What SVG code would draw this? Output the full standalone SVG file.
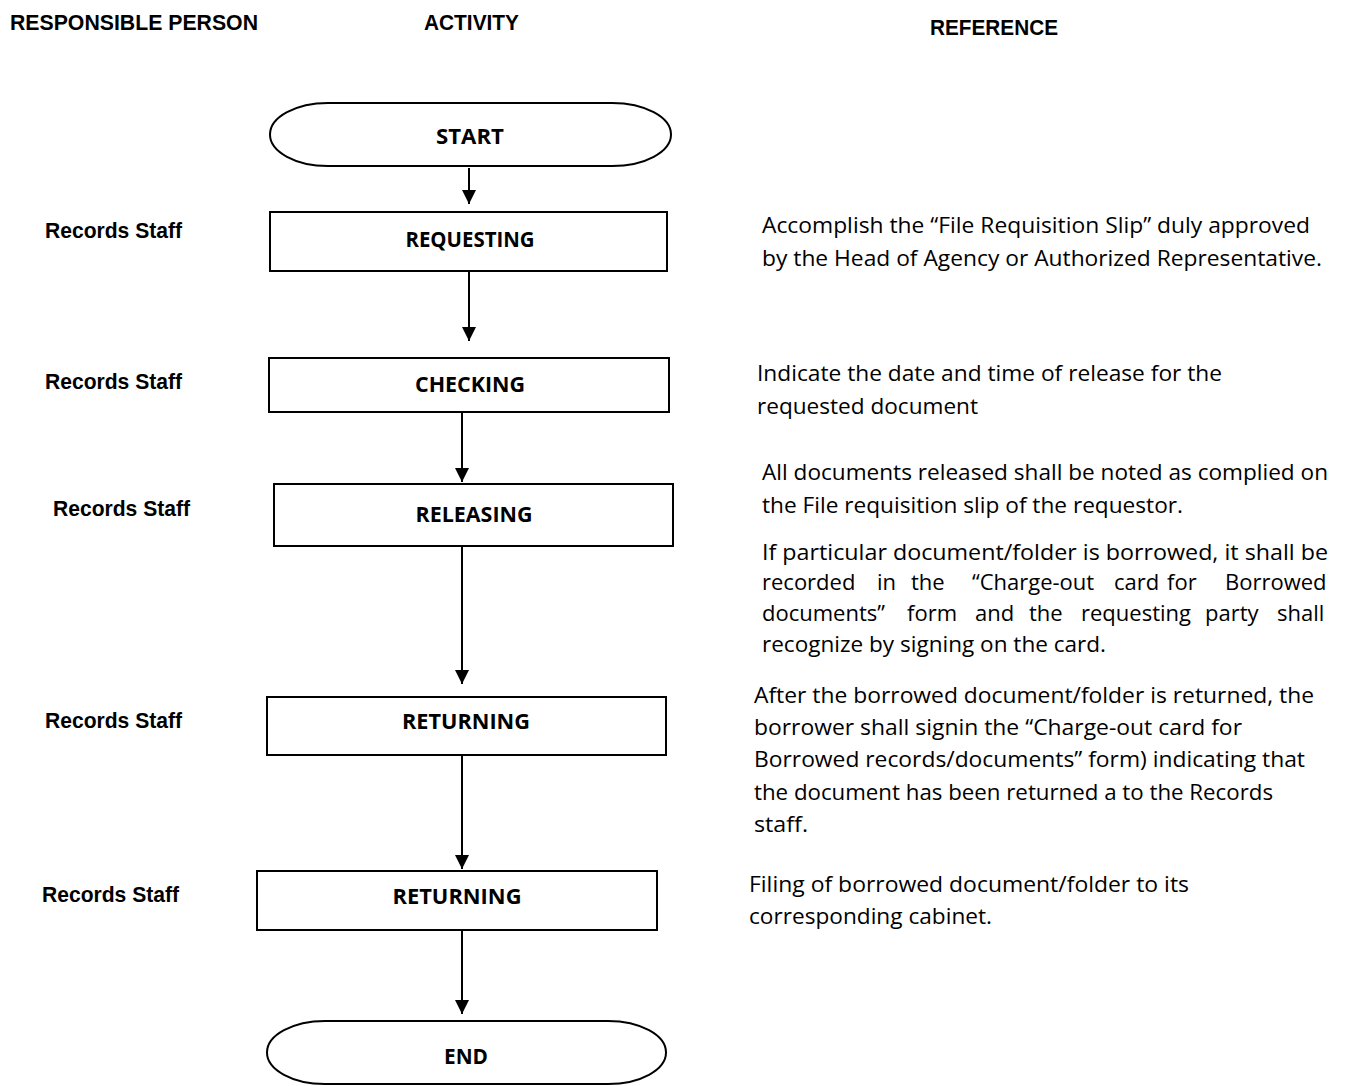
<svg xmlns="http://www.w3.org/2000/svg" width="1347" height="1086" viewBox="0 0 1347 1086">
<style>
.hdr{font-family:"Liberation Sans",Arial,sans-serif;font-weight:bold;font-size:22px;fill:#000}
.who{font-family:"Liberation Sans",Arial,sans-serif;font-weight:bold;font-size:22px;fill:#000}
.lbl{font-family:"Open Sans","Noto Sans",sans-serif;font-weight:bold;font-size:22px;fill:#000;text-anchor:middle}
.ref{font-family:"Open Sans","Noto Sans",sans-serif;font-size:22px;fill:#000}
.shape{fill:#fff;stroke:#000;stroke-width:2}
.conn{stroke:#000;stroke-width:2;fill:none}
</style>
<defs>
<marker id="arr" viewBox="0 0 10 10" refX="10" refY="5" markerWidth="14" markerHeight="15" markerUnits="userSpaceOnUse" orient="auto">
<path d="M0,0 L10,5 L0,10 Z" fill="#000"/>
</marker>
</defs>
<rect width="1347" height="1086" fill="#fff"/>

<g id="headers">
<text class="hdr" x="10" y="30" textLength="248" lengthAdjust="spacingAndGlyphs">RESPONSIBLE PERSON</text>
<text class="hdr" x="424" y="30" textLength="95" lengthAdjust="spacingAndGlyphs">ACTIVITY</text>
<text class="hdr" x="930" y="35" textLength="128" lengthAdjust="spacingAndGlyphs">REFERENCE</text>
</g>

<g id="connectors">
<line class="conn" x1="469" y1="168" x2="469" y2="204" marker-end="url(#arr)"/>
<line class="conn" x1="469" y1="272" x2="469" y2="341" marker-end="url(#arr)"/>
<line class="conn" x1="462" y1="413" x2="462" y2="482" marker-end="url(#arr)"/>
<line class="conn" x1="462" y1="547" x2="462" y2="684" marker-end="url(#arr)"/>
<line class="conn" x1="462" y1="756" x2="462" y2="869" marker-end="url(#arr)"/>
<line class="conn" x1="462" y1="931" x2="462" y2="1014" marker-end="url(#arr)"/>
</g>

<g id="start">
<path class="shape" d="M328,103 H612 A59,31.5 0 0 1 612,166 H328 A58,31.5 0 0 1 328,103 Z"/>
<text class="lbl" x="470" y="144" textLength="68" lengthAdjust="spacingAndGlyphs">START</text>
</g>

<g id="requesting">
<rect class="shape" x="270" y="212" width="397" height="59"/>
<text class="lbl" x="470" y="247" textLength="129" lengthAdjust="spacingAndGlyphs">REQUESTING</text>
</g>

<g id="checking">
<rect class="shape" x="269" y="358" width="400" height="54"/>
<text class="lbl" x="470" y="392" textLength="110" lengthAdjust="spacingAndGlyphs">CHECKING</text>
</g>

<g id="releasing">
<rect class="shape" x="274" y="484" width="399" height="62"/>
<text class="lbl" x="474" y="522" textLength="117" lengthAdjust="spacingAndGlyphs">RELEASING</text>
</g>

<g id="returning1">
<rect class="shape" x="267" y="697" width="399" height="58"/>
<text class="lbl" x="466" y="729" textLength="128" lengthAdjust="spacingAndGlyphs">RETURNING</text>
</g>

<g id="returning2">
<rect class="shape" x="257" y="871" width="400" height="59"/>
<text class="lbl" x="457" y="904" textLength="129" lengthAdjust="spacingAndGlyphs">RETURNING</text>
</g>

<g id="end">
<path class="shape" d="M325,1021 H608 A58,31.5 0 0 1 608,1084 H325 A58,31.5 0 0 1 325,1021 Z"/>
<text class="lbl" x="466" y="1064" textLength="44" lengthAdjust="spacingAndGlyphs">END</text>
</g>

<g id="responsible">
<text class="who" x="45" y="238" textLength="137" lengthAdjust="spacingAndGlyphs">Records Staff</text>
<text class="who" x="45" y="389" textLength="137" lengthAdjust="spacingAndGlyphs">Records Staff</text>
<text class="who" x="53" y="516" textLength="137" lengthAdjust="spacingAndGlyphs">Records Staff</text>
<text class="who" x="45" y="728" textLength="137" lengthAdjust="spacingAndGlyphs">Records Staff</text>
<text class="who" x="42" y="902" textLength="137" lengthAdjust="spacingAndGlyphs">Records Staff</text>
</g>

<g id="references">
<text class="ref" x="762" y="233" textLength="548" lengthAdjust="spacingAndGlyphs">Accomplish the “File Requisition Slip” duly approved</text>
<text class="ref" x="762" y="266" textLength="560" lengthAdjust="spacingAndGlyphs">by the Head of Agency or Authorized Representative.</text>

<text class="ref" x="757" y="381" textLength="465" lengthAdjust="spacingAndGlyphs">Indicate the date and time of release for the</text>
<text class="ref" x="757" y="414" textLength="221" lengthAdjust="spacingAndGlyphs">requested document</text>

<text class="ref" x="762" y="480" textLength="566" lengthAdjust="spacingAndGlyphs">All documents released shall be noted as complied on</text>
<text class="ref" x="762" y="513" textLength="421" lengthAdjust="spacingAndGlyphs">the File requisition slip of the requestor.</text>

<text class="ref" x="762" y="560" textLength="566" lengthAdjust="spacingAndGlyphs">If particular document/folder is borrowed, it shall be</text>
<text class="ref" y="590"><tspan x="762">recorded</tspan><tspan x="877">in</tspan><tspan x="911">the</tspan><tspan x="972">“Charge-out</tspan><tspan x="1114">card</tspan><tspan x="1167">for</tspan><tspan x="1225">Borrowed</tspan></text>
<text class="ref" y="621"><tspan x="762">documents”</tspan><tspan x="907">form</tspan><tspan x="975">and</tspan><tspan x="1029">the</tspan><tspan x="1081">requesting</tspan><tspan x="1205">party</tspan><tspan x="1277">shall</tspan></text>
<text class="ref" x="762" y="652" textLength="344" lengthAdjust="spacingAndGlyphs">recognize by signing on the card.</text>

<text class="ref" x="754" y="703" textLength="560" lengthAdjust="spacingAndGlyphs">After the borrowed document/folder is returned, the</text>
<text class="ref" x="754" y="735" textLength="488" lengthAdjust="spacingAndGlyphs">borrower shall signin the “Charge-out card for</text>
<text class="ref" x="754" y="767" textLength="551" lengthAdjust="spacingAndGlyphs">Borrowed records/documents” form) indicating that</text>
<text class="ref" x="754" y="800" textLength="519" lengthAdjust="spacingAndGlyphs">the document has been returned a to the Records</text>
<text class="ref" x="754" y="832" textLength="54" lengthAdjust="spacingAndGlyphs">staff.</text>

<text class="ref" x="749" y="892" textLength="440" lengthAdjust="spacingAndGlyphs">Filing of borrowed document/folder to its</text>
<text class="ref" x="749" y="924" textLength="243" lengthAdjust="spacingAndGlyphs">corresponding cabinet.</text>
</g>
</svg>
